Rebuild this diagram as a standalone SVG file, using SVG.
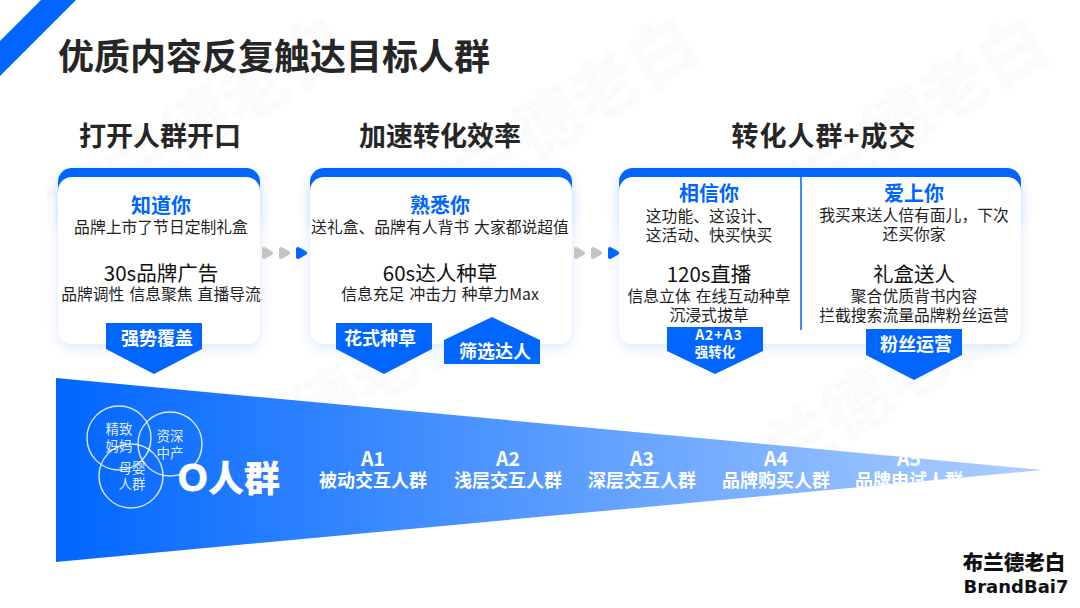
<svg xmlns="http://www.w3.org/2000/svg" width="1080" height="608" viewBox="0 0 1080 608">
<style>
text{font-family:"Noto Sans CJK SC","Liberation Sans",sans-serif;text-anchor:middle}
.title{font-size:36px;font-weight:700;fill:#262626;text-anchor:start}
.head{font-size:27px;font-weight:700;fill:#262626}
.name{font-size:20px;font-weight:700;fill:#0066ff}
.body{font-size:15.8px;word-spacing:1.5px;fill:#1f1f1f}
.big{font-size:20.5px;fill:#111}
.tag{font-size:18px;font-weight:700;fill:#fff}
.a{font-size:18px;font-weight:700;fill:#fff}
.aa{font-size:19.5px;font-weight:700;fill:#fff}
.small{font-size:13.5px;fill:#fff;fill-opacity:.9}
.ring{fill:none;stroke:#fff;stroke-opacity:.85;stroke-width:1.4}
.mark{font-size:68px;font-weight:900;fill:#fbfbfb}
.blue{fill:#0066ff;stroke:#0066ff}
.grey{fill:#c4c4c4;stroke:#c4c4c4}
.flat{stroke:none}
</style>
<defs>
<filter id="sh" x="-15%" y="-15%" width="130%" height="135%"><feDropShadow dx="0" dy="4" stdDeviation="6" flood-color="#0066ff" flood-opacity=".14"/></filter>
<linearGradient id="wg" x1="56" y1="0" x2="1042" y2="0" gradientUnits="userSpaceOnUse"><stop offset="0" stop-color="#0066ff"/><stop offset="1" stop-color="#b0d0ff"/></linearGradient>
<path id="ar" d="M2-4L9 0L2 4Z" stroke-width="4" stroke-linejoin="round"/>
</defs>
<rect width="1080" height="608" fill="#fff"/>
<g id="watermark">
<text class="mark" transform="translate(210 145) rotate(-32)">布兰德老白</text>
<text class="mark" transform="translate(560 145) rotate(-32)">布兰德老白</text>
<text class="mark" transform="translate(910 145) rotate(-32)">布兰德老白</text>
<text class="mark" transform="translate(340 425) rotate(-32)">布兰德老白</text>
<text class="mark" transform="translate(870 425) rotate(-32)">布兰德老白</text>
</g>
<polygon id="corner" class="blue flat" points="41,0 76,0 0,76 0,41"/>
<text id="title" class="title" x="58" y="70">优质内容反复触达目标人群</text>
<g id="headers">
<text class="head" x="160" y="146">打开人群开口</text>
<text class="head" x="440" y="146">加速转化效率</text>
<text class="head" x="824" y="146" style="letter-spacing:1px">转化人群+成交</text>
</g>
<g id="card1">
<rect class="blue flat" x="58" y="168" width="202" height="60" rx="14" filter="url(#sh)"/>
<rect x="58" y="177" width="202" height="167" rx="14" fill="#fff" filter="url(#sh)"/>
<text class="name" x="161" y="213">知道你</text>
<text class="body" x="161" y="233">品牌上市了节日定制礼盒</text>
<text class="big" x="161" y="281">30s品牌广告</text>
<text class="body" x="161" y="300">品牌调性 信息聚焦 直播导流</text>
</g>
<g id="card2">
<rect class="blue flat" x="310" y="168" width="262" height="60" rx="14" filter="url(#sh)"/>
<rect x="310" y="177" width="262" height="167" rx="14" fill="#fff" filter="url(#sh)"/>
<text class="name" x="440" y="213">熟悉你</text>
<text class="body" x="440" y="233">送礼盒、品牌有人背书 大家都说超值</text>
<text class="big" x="440" y="281">60s达人种草</text>
<text class="body" x="440" y="300">信息充足 冲击力 种草力Max</text>
</g>
<g id="card3">
<rect class="blue flat" x="619" y="168" width="402" height="60" rx="14" filter="url(#sh)"/>
<rect x="619" y="177" width="402" height="167" rx="14" fill="#fff" filter="url(#sh)"/>
<line x1="801" y1="177" x2="801" y2="330" stroke="#0066ff" stroke-width="1.5"/>
<text class="name" x="709" y="201">相信你</text>
<text class="body" x="709" y="222">这功能、这设计、</text>
<text class="body" x="709" y="241">这活动、快买快买</text>
<text class="big" x="709" y="282">120s直播</text>
<text class="body" x="709" y="302">信息立体 在线互动种草</text>
<text class="body" x="709" y="321">沉浸式拔草</text>
<text class="name" x="914" y="201">爱上你</text>
<text class="body" x="914" y="221">我买来送人倍有面儿，下次</text>
<text class="body" x="914" y="240">还买你家</text>
<text class="big" x="914" y="282">礼盒送人</text>
<text class="body" x="914" y="302">聚合优质背书内容</text>
<text class="body" x="914" y="321">拦截搜索流量品牌粉丝运营</text>
</g>
<g id="connectors">
<use href="#ar" class="grey" x="262" y="253"/>
<use href="#ar" class="grey" x="279" y="253"/>
<use href="#ar" class="blue" x="296" y="253"/>
<use href="#ar" class="grey" x="574" y="253"/>
<use href="#ar" class="grey" x="591" y="253"/>
<use href="#ar" class="blue" x="608" y="253"/>
</g>
<g id="tag1"><polygon class="blue flat" points="106,323 202,323 202,349 154,374 106,349"/><text class="tag" x="157" y="345">强势覆盖</text></g>
<g id="tag2"><polygon class="blue flat" points="336,323 432,323 432,349 384,374 336,349"/><text class="tag" x="380" y="345">花式种草</text></g>
<g id="tag3"><polygon class="blue flat" points="444,340 492,317 540,340 540,364 444,364"/><text class="tag" x="495" y="358">筛选达人</text></g>
<g id="tag4"><polygon class="blue flat" points="667,327 763,327 763,351 715,374 667,351"/><text class="tag" style="font-size:14px;letter-spacing:1px" x="719" y="340">A2+A3</text><text class="tag" style="font-size:13.5px" x="715" y="357">强转化</text></g>
<g id="tag5"><polygon class="blue flat" points="866,329 962,329 962,355 914,380 866,355"/><text class="tag" x="916" y="351">粉丝运营</text></g>
<g id="wedge">
<polygon fill="url(#wg)" points="56,378 56,562 1043,470"/>
<clipPath id="wc"><polygon points="56,378 56,562 1043,470"/></clipPath>
<g id="circles">
<circle class="ring" cx="119" cy="438" r="32"/>
<circle class="ring" cx="170" cy="444" r="32"/>
<circle class="ring" cx="131" cy="476" r="32"/>
<text class="small" x="119" y="434">精致</text><text class="small" x="119" y="451">妈妈</text>
<text class="small" x="170" y="441">资深</text><text class="small" x="170" y="458">中产</text>
<text class="small" x="132" y="473">母婴</text><text class="small" x="132" y="489">人群</text>
</g>
<text x="178" y="491" style="font-family:'Liberation Sans',sans-serif;font-size:38px;font-weight:700;fill:#fff;text-anchor:start;stroke:#fff;stroke-width:1">O</text>
<text x="208" y="492" style="font-size:36px;font-weight:900;fill:#fff;text-anchor:start">人群</text>
<g clip-path="url(#wc)">
<text class="aa" x="373" y="466">A1</text><text class="a" x="373" y="487">被动交互人群</text>
<text class="aa" x="508" y="466">A2</text><text class="a" x="508" y="487">浅层交互人群</text>
<text class="aa" x="642" y="466">A3</text><text class="a" x="642" y="487">深层交互人群</text>
<text class="aa" x="776" y="466">A4</text><text class="a" x="776" y="487">品牌购买人群</text>
<text class="aa" x="909" y="466">A5</text><text class="a" x="909" y="487">品牌申试人群</text>
</g>
</g>
<g id="logo">
<text x="1014" y="570" style="font-size:20.5px;font-weight:900;fill:#111">布兰德老白</text>
<text x="1016" y="593" textLength="105" lengthAdjust="spacingAndGlyphs" style="font-family:'DejaVu Sans',sans-serif;font-size:17.5px;font-weight:700;fill:#111">BrandBai7</text>
</g>
</svg>
